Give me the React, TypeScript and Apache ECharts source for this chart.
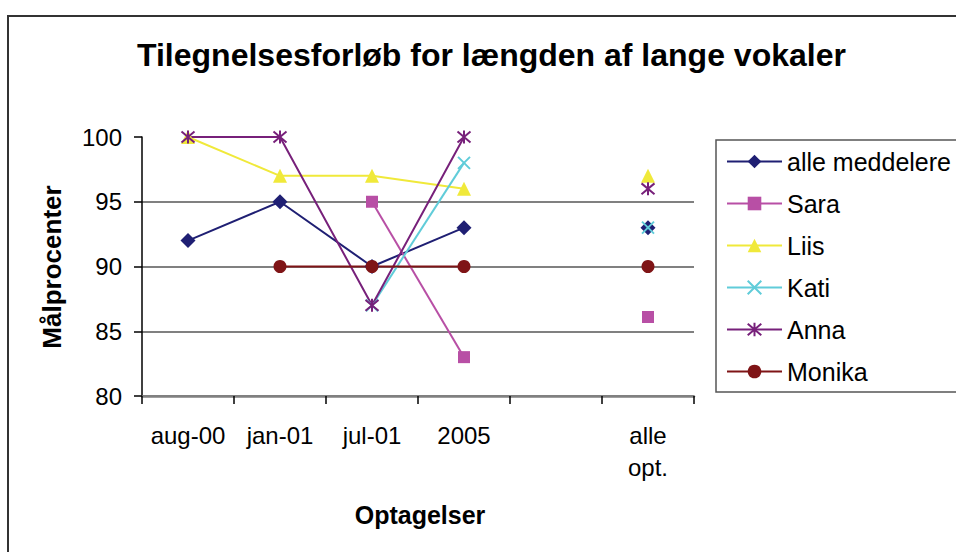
import React, { useEffect, useRef } from "react";
import * as echarts from "echarts";

const categories = ["aug-00", "jan-01", "jul-01", "2005", "", "alle\nopt."];
const alleMeddelere = [92, 95, 90, 93, null, 93];
const sara = [null, null, 95, 83, null, 86.1];
const liis = [100, 97, 97, 96, null, 97];
const kati = [null, null, 87, 98, null, 93];
const anna = [100, 100, 87, 100, null, 96];
const monika = [null, 90, 90, 90, null, 90];
const yMin = 80;
const yMax = 100;
const yInterval = 5;

const FONT = "'Liberation Sans', Arial, sans-serif";

const X_PATH = "path://M0,0L10,10M10,0L0,10";
const STAR_PATH = "path://M0,0L10,10M10,0L0,10M5,-1L5,11";

function mk(name: string, data: (number | null)[], color: string, symbol: string, size: number, stroke = false) {
  return {
    name,
    type: "line",
    data,
    symbol,
    symbolSize: size,
    connectNulls: false,
    lineStyle: { color, width: 2 },
    itemStyle: stroke
      ? { color: "rgba(0,0,0,0)", borderColor: color, borderWidth: 2 }
      : { color, borderWidth: 0 },
    emphasis: { disabled: true },
  };
}

export default function App() {
  const ref = useRef<HTMLDivElement>(null);
  useEffect(() => {
    const chart = echarts.init(ref.current!, undefined, { renderer: "svg" });
    chart.setOption({
      animation: false,
      backgroundColor: "#ffffff",
      textStyle: { fontFamily: FONT },
      title: {
        text: "Tilegnelsesforløb for længden af lange vokaler",
        left: 137,
        top: 39,
        padding: 0,
        textStyle: { fontFamily: FONT, fontSize: 32, fontWeight: "bold", color: "#000", lineHeight: 32 },
      },
      graphic: [
        {
          type: "rect",
          shape: { x: 8, y: 16, width: 1000, height: 600 },
          style: { fill: "none", stroke: "#333", lineWidth: 2 },
          silent: true,
          z: -10,
        },
        {
          type: "rect",
          shape: { x: 716, y: 140, width: 400, height: 252 },
          style: { fill: "#fff", stroke: "#555", lineWidth: 1.5 },
          silent: true,
          z: -5,
        },
        {
          type: "text",
          x: 52,
          y: 267,
          rotation: Math.PI / 2,
          style: {
            text: "Målprocenter",
            font: `bold 26px ${FONT}`,
            fill: "#000",
            align: "center",
            verticalAlign: "middle",
          },
        },
        {
          type: "text",
          x: 420,
          y: 515,
          style: {
            text: "Optagelser",
            font: `bold 25px ${FONT}`,
            fill: "#000",
            align: "center",
            verticalAlign: "middle",
          },
        },
      ],
      legend: {
        orient: "vertical",
        left: 726,
        top: 149,
        padding: 0,
        itemWidth: 55,
        itemHeight: 17,
        itemGap: 17,
        textStyle: { fontFamily: FONT, fontSize: 25, lineHeight: 25, color: "#000" },
        data: ["alle meddelere", "Sara", "Liis", "Kati", "Anna", "Monika"],
      },
      grid: { left: 142, top: 137, width: 552, height: 259, containLabel: false },
      xAxis: {
        type: "category",
        data: categories,
        boundaryGap: true,
        axisLine: { show: true, lineStyle: { color: "#808080", width: 2.5 } },
        axisTick: { show: true, length: 8, lineStyle: { color: "#000", width: 1.5 } },
        axisLabel: {
          interval: 0,
          margin: 23,
          fontSize: 24,
          lineHeight: 32,
          color: "#000",
          fontFamily: FONT,
        },
        splitLine: { show: false },
      },
      yAxis: {
        type: "value",
        min: yMin,
        max: yMax,
        interval: yInterval,
        axisLine: { show: true, onZero: false, lineStyle: { color: "#000", width: 1.5 } },
        axisTick: { show: true, length: 8, lineStyle: { color: "#000", width: 1.5 } },
        axisLabel: { margin: 20, fontSize: 24, color: "#000", fontFamily: FONT },
        splitLine: {
          show: true,
          lineStyle: {
            color: ["#808080", "#808080", "#808080", "#808080", "rgba(0,0,0,0)"],
            width: 2,
          },
        },
      },
      series: [
        mk("alle meddelere", alleMeddelere, "#1F1F73", "diamond", 15),
        mk("Sara", sara, "#B84FA5", "rect", 12),
        mk("Liis", liis, "#F0E93A", "triangle", 14),
        mk("Kati", kati, "#60CCD9", X_PATH, 12, true),
        mk("Anna", anna, "#77207A", STAR_PATH, 13, true),
        mk("Monika", monika, "#7F1416", "circle", 13),
      ],
    });
    return () => chart.dispose();
  }, []);
  return (
    <div
      ref={ref}
      style={{ position: "fixed", left: 0, top: 0, width: 956, height: 552 }}
    />
  );
}
